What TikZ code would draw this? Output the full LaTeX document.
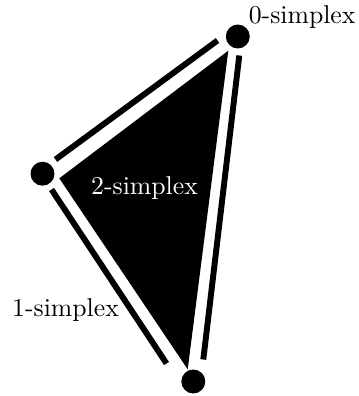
\documentclass[tikz,border=0pt]{standalone}
\begin{document}
\begin{tikzpicture}[x=0.3884pt,y=-0.3884pt,
  vertexdot/.style={circle,fill=black,inner sep=0pt,minimum size=9.3pt},
  edgeline/.style={line width=2.3pt,black},
  lbl/.style={inner sep=0pt,anchor=base west,font=\normalsize}]
\useasboundingbox (0,0) rectangle (358,396);
% vertices
\node[vertexdot] (A) at (237.8,36.5) {};
\node[vertexdot] (B) at (42.5,173.7) {};
\node[vertexdot] (C) at (193.3,381.5) {};
% filled 2-simplex
\coordinate (fa) at (228.3,50.7);
\coordinate (fb) at (59.3,178.3);
\coordinate (fc) at (187.7,369.3);
\fill[black] (fa) -- (fb) -- (fc) -- cycle;
% 1-simplices
\coordinate (l1a) at (217.5,40.5);
\coordinate (l1b) at (55.5,159.5);
\coordinate (l2a) at (51.5,189.5);
\coordinate (l2b) at (166.5,363.5);
\coordinate (l3a) at (239.3,55.5);
\coordinate (l3b) at (203.3,359.5);
\draw[edgeline] (l1a) -- (l1b);
\draw[edgeline] (l2a) -- (l2b);
\draw[edgeline] (l3a) -- (l3b);
% labels
\node[lbl] (t0) at (248.3,24) {0-simplex};
\node[lbl] (t1) at (11.7,316.5) {1-simplex};
\node[lbl,text=white] (t2) at (90.7,195) {2-simplex};
\end{tikzpicture}
\end{document}
